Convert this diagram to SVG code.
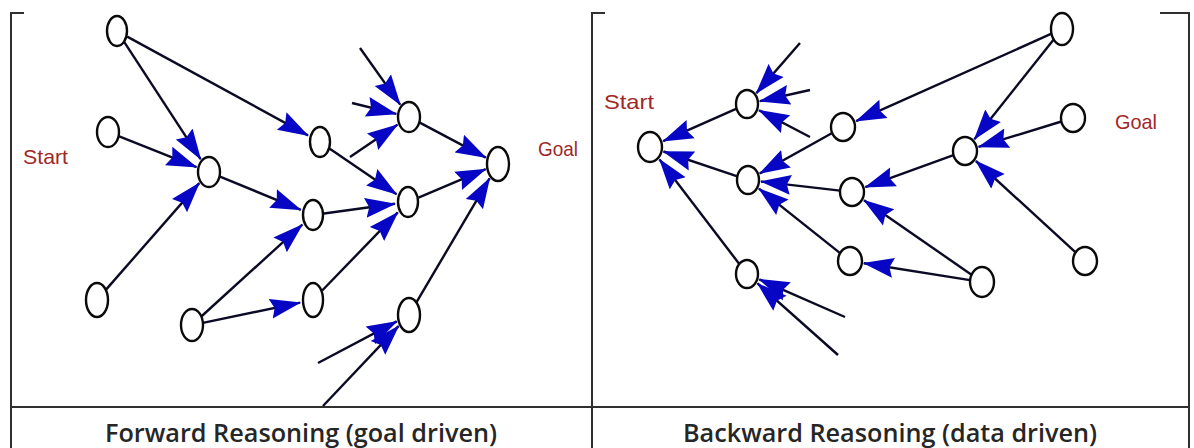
<svg xmlns="http://www.w3.org/2000/svg" width="1194" height="448" viewBox="0 0 1194 448">
<style>
.frame{stroke:#303030;stroke-width:2;fill:none}
.node{fill:#ffffff;stroke:#0a0a0a;stroke-width:2.4}
.edge{stroke:#0a0a24;stroke-width:2.4;fill:none;marker-end:url(#ah)}
.lbl{font-family:"Liberation Sans",Arial,sans-serif;font-size:21px;fill:#a02828}
.cap{font-family:"Open Sans","Liberation Sans",sans-serif;font-weight:600;font-size:26px;fill:#262626}
</style>
<defs>
<marker id="ah" markerUnits="userSpaceOnUse" markerWidth="34" markerHeight="22" refX="30" refY="11" orient="auto">
<path d="M0,1 L31,11 L0,21 L4,11 z" fill="#0606c4"/>
</marker>
</defs>
<rect width="1194" height="448" fill="#ffffff"/>
<g id="frame">
<path class="frame" d="M24,13 H11 V448"/>
<path class="frame" d="M605,13 H592 V448"/>
<path class="frame" d="M1160,13 H1189 V448"/>
<line class="frame" x1="11" y1="407" x2="1189" y2="407"/>
</g>
<g id="connectors">
<line class="edge" x1="124.3" y1="42.2" x2="200.6" y2="159.1"/>
<line class="edge" x1="127.2" y1="36.6" x2="308" y2="135.4"/>
<line class="edge" x1="118.6" y1="136.2" x2="196.5" y2="167.1"/>
<line class="edge" x1="105.8" y1="289.9" x2="199.3" y2="183.1"/>
<line class="edge" x1="219.4" y1="176.3" x2="300.8" y2="209.9"/>
<line class="edge" x1="201.3" y1="316.5" x2="302.3" y2="224.6"/>
<line class="edge" x1="202.9" y1="322.8" x2="300.1" y2="302.6"/>
<line class="edge" x1="329.8" y1="148.7" x2="396.5" y2="194.2"/>
<line class="edge" x1="324" y1="213.5" x2="395" y2="203.8"/>
<line class="edge" x1="322.2" y1="290.5" x2="397.8" y2="212.4"/>
<line class="edge" x1="419.3" y1="122.4" x2="485.8" y2="157.6"/>
<line class="edge" x1="418.5" y1="197.6" x2="485.7" y2="169.2"/>
<line class="edge" x1="416.4" y1="302.4" x2="489.6" y2="178.3"/>
<line class="edge" x1="360" y1="48" x2="400.2" y2="104.6"/>
<line class="edge" x1="352" y1="103" x2="396.3" y2="113.9"/>
<line class="edge" x1="350" y1="157" x2="397.4" y2="124.8"/>
<line class="edge" x1="318" y1="363" x2="396.8" y2="321.4"/>
<line class="edge" x1="323" y1="406" x2="398.6" y2="326.1"/>
<line class="edge" x1="736.6" y1="108.6" x2="663.2" y2="141.2"/>
<line class="edge" x1="737.4" y1="176.4" x2="663.5" y2="151.5"/>
<line class="edge" x1="739.3" y1="264" x2="659.5" y2="159.4"/>
<line class="edge" x1="800" y1="43" x2="756.4" y2="93.1"/>
<line class="edge" x1="810" y1="90" x2="759.8" y2="101.2"/>
<line class="edge" x1="810" y1="137" x2="759" y2="110.3"/>
<line class="edge" x1="832.2" y1="133" x2="759.8" y2="173.4"/>
<line class="edge" x1="840" y1="190.6" x2="761" y2="181.5"/>
<line class="edge" x1="840.1" y1="253.1" x2="758.9" y2="188.6"/>
<line class="edge" x1="1051.5" y1="33.7" x2="856.1" y2="121.2"/>
<line class="edge" x1="1053.7" y1="39.5" x2="974.4" y2="139.2"/>
<line class="edge" x1="1061.4" y1="121.5" x2="978.5" y2="146.9"/>
<line class="edge" x1="1075.6" y1="252.3" x2="975.9" y2="161"/>
<line class="edge" x1="953.5" y1="155.2" x2="865.3" y2="187.2"/>
<line class="edge" x1="971.5" y1="274.7" x2="864" y2="200.3"/>
<line class="edge" x1="970" y1="280.1" x2="863.8" y2="263.2"/>
<line class="edge" x1="845" y1="317" x2="759.3" y2="279.4"/>
<line class="edge" x1="838" y1="355" x2="757.5" y2="283.4"/>
</g>
<g id="fwd-A"><ellipse class="node" cx="117" cy="31" rx="10" ry="15"/></g>
<g id="fwd-start"><ellipse class="node" cx="108" cy="132" rx="11" ry="15"/></g>
<g id="fwd-C"><ellipse class="node" cx="209" cy="172" rx="11" ry="15"/></g>
<g id="fwd-D"><ellipse class="node" cx="97" cy="300" rx="11" ry="17"/></g>
<g id="fwd-E"><ellipse class="node" cx="192" cy="325" rx="11" ry="16"/></g>
<g id="fwd-F"><ellipse class="node" cx="320" cy="142" rx="10" ry="15"/></g>
<g id="fwd-G"><ellipse class="node" cx="409" cy="117" rx="11" ry="15"/></g>
<g id="fwd-goal"><ellipse class="node" cx="498" cy="164" rx="11" ry="17"/></g>
<g id="fwd-I"><ellipse class="node" cx="408" cy="202" rx="10" ry="15"/></g>
<g id="fwd-J"><ellipse class="node" cx="313" cy="215" rx="10" ry="15"/></g>
<g id="fwd-K"><ellipse class="node" cx="313" cy="300" rx="10" ry="17"/></g>
<g id="fwd-L"><ellipse class="node" cx="409" cy="315" rx="11" ry="17"/></g>
<g id="bwd-start"><ellipse class="node" cx="650" cy="147" rx="12" ry="15"/></g>
<g id="bwd-N1"><ellipse class="node" cx="747" cy="104" rx="11" ry="14"/></g>
<g id="bwd-N2"><ellipse class="node" cx="748" cy="180" rx="11" ry="14"/></g>
<g id="bwd-N3"><ellipse class="node" cx="843" cy="127" rx="12" ry="14"/></g>
<g id="bwd-N4"><ellipse class="node" cx="852" cy="192" rx="12" ry="14"/></g>
<g id="bwd-N5"><ellipse class="node" cx="965" cy="151" rx="12" ry="14"/></g>
<g id="bwd-T"><ellipse class="node" cx="1062" cy="29" rx="11" ry="16"/></g>
<g id="bwd-goal"><ellipse class="node" cx="1073" cy="118" rx="12" ry="14"/></g>
<g id="bwd-N6"><ellipse class="node" cx="1085" cy="261" rx="12" ry="14"/></g>
<g id="bwd-N7"><ellipse class="node" cx="850" cy="261" rx="12" ry="14"/></g>
<g id="bwd-N8"><ellipse class="node" cx="982" cy="282" rx="12" ry="15"/></g>
<g id="bwd-N9"><ellipse class="node" cx="747" cy="274" rx="11" ry="14"/></g>
<g id="labels">
<text class="lbl" x="23" y="164" textLength="45" lengthAdjust="spacingAndGlyphs">Start</text>
<text class="lbl" x="538" y="156" textLength="40" lengthAdjust="spacingAndGlyphs">Goal</text>
<text class="lbl" x="604" y="109" textLength="50" lengthAdjust="spacingAndGlyphs">Start</text>
<text class="lbl" x="1115" y="129" textLength="42" lengthAdjust="spacingAndGlyphs">Goal</text>
<text class="cap" x="105" y="442" textLength="392" lengthAdjust="spacingAndGlyphs">Forward Reasoning (goal driven)</text>
<text class="cap" x="683" y="442" textLength="414" lengthAdjust="spacingAndGlyphs">Backward Reasoning (data driven)</text>
</g>
</svg>
